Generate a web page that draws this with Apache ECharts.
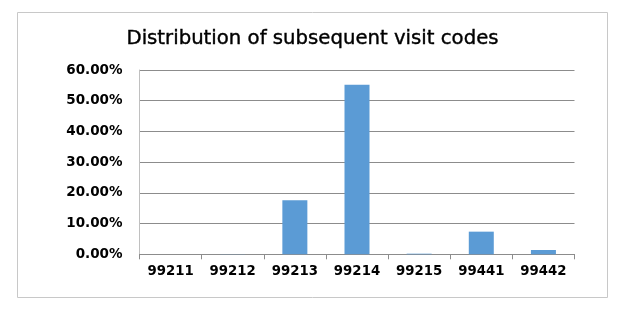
<!DOCTYPE html>
<html><head><meta charset="utf-8">
<script src="https://cdn.jsdelivr.net/npm/echarts@6/dist/echarts.min.js"></script>
<style>html,body{margin:0;padding:0;background:#fff}#c{width:625px;height:321px}</style>
</head><body><div id="c"></div>
<script>
const categories = ['99211','99212','99213','99214','99215','99441','99442'];
const shares = [0, 0.0005, 0.176, 0.552, 0.002, 0.0737, 0.014];
const titleText = 'Distribution of subsequent visit codes';
const yTicks = { min: 0, max: 0.6, interval: 0.1 };

const chart = echarts.init(document.getElementById('c'), null, {renderer: 'canvas'});
chart.setOption({
  animation: false,
  backgroundColor: '#fff',
  title: {
    text: titleText, left: 'center', top: 24,
    textStyle: {fontFamily: 'DejaVu Sans', fontSize: 19.7, fontWeight: 'normal', color: '#000',
      textBorderColor: '#000', textBorderWidth: 0.4}
  },
  graphic: [{
    type: 'rect', shape: {x: 17.5, y: 12.5, width: 590, height: 285},
    style: {fill: 'none', stroke: '#c8c8c8', lineWidth: 1}, z: -1
  }],
  grid: {left: 139.5, right: 50.5, top: 70, bottom: 66.7},
  xAxis: {
    type: 'category', data: categories,
    axisLine: {lineStyle: {color: '#8c8c8c'}},
    axisTick: {show: true, length: 5, lineStyle: {color: '#8c8c8c'}},
    axisLabel: {margin: 11, fontFamily: 'DejaVu Sans', fontSize: 13.3, fontWeight: 'bold', color: '#000'}
  },
  yAxis: {
    type: 'value', min: yTicks.min, max: yTicks.max, interval: yTicks.interval,
    axisLine: {show: true, lineStyle: {color: '#c0c0c0'}},
    axisTick: {show: false},
    splitLine: {lineStyle: {color: '#8c8c8c'}},
    axisLabel: {margin: 17, fontFamily: 'DejaVu Sans', fontSize: 13.5, fontWeight: 'bold', color: '#000',
      formatter: v => (v * 100).toFixed(2) + '%'}
  },
  series: [{
    type: 'bar', data: shares, barWidth: 25,
    itemStyle: {color: '#5b9bd5'}
  }]
});
</script></body></html>
